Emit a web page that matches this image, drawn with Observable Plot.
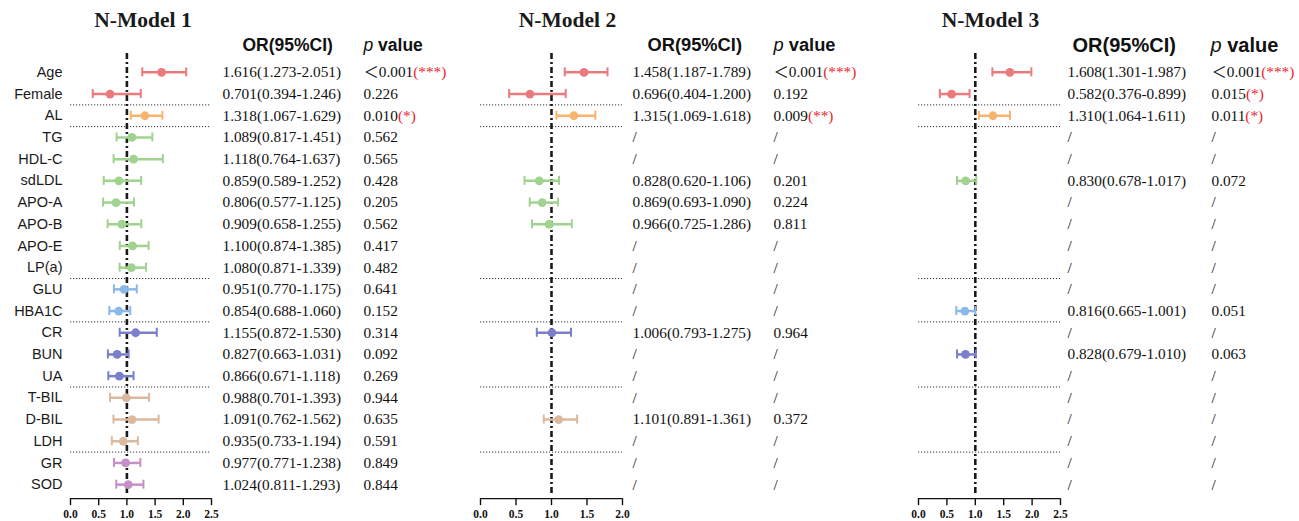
<!DOCTYPE html>
<html><head><meta charset="utf-8">
<script src="https://cdn.jsdelivr.net/npm/d3@7"></script>
<script src="https://cdn.jsdelivr.net/npm/@observablehq/plot@0.6"></script>
<style>
html,body{margin:0;padding:0;background:#fff;color:#111;}
#chart{position:relative;width:1299px;height:521px;overflow:hidden;}
#chart svg{position:absolute;top:0;background:transparent;}
</style></head><body><div id="chart"></div>
<script>
// ---------- data ----------
const variables = ["Age","Female","AL","TG","HDL-C","sdLDL","APO-A","APO-B","APO-E","LP(a)","GLU","HBA1C","CR","BUN","UA","T-BIL","D-BIL","LDH","GR","SOD"];
const groups = ["demo","demo","al","lipid","lipid","lipid","lipid","lipid","lipid","lipid","glucose","glucose","renal","renal","renal","liver","liver","liver","oxid","oxid"];
const groupNames = ["demo","al","lipid","glucose","renal","liver","oxid"];
const groupColors = ["#ec7a7c","#f8b46c","#9fd38f","#8ab9e9","#7a7fcb","#dcb99e","#c590c6"];
const separatorsBefore = ["AL","TG","GLU","CR","T-BIL","GR"];

const titles = ["N-Model 1","N-Model 2","N-Model 3"];
const ticks1 = [0,0.5,1,1.5,2,2.5];
const ticks2 = [0,0.5,1,1.5,2];
const ticks3 = [0,0.5,1,1.5,2,2.5];

const m1OR = [1.616,0.701,1.318,1.089,1.118,0.859,0.806,0.909,1.100,1.080,0.951,0.854,1.155,0.827,0.866,0.988,1.091,0.935,0.977,1.024];
const m1Lo = [1.273,0.394,1.067,0.817,0.764,0.589,0.577,0.658,0.874,0.871,0.770,0.688,0.872,0.663,0.671,0.701,0.762,0.733,0.771,0.811];
const m1Hi = [2.051,1.246,1.629,1.451,1.637,1.252,1.125,1.255,1.385,1.339,1.175,1.060,1.530,1.031,1.118,1.393,1.562,1.194,1.238,1.293];
const m1P  = ["＜0.001","0.226","0.010","0.562","0.565","0.428","0.205","0.562","0.417","0.482","0.641","0.152","0.314","0.092","0.269","0.944","0.635","0.591","0.849","0.844"];
const m1Sig = ["***","","*","","","","","","","","","","","","","","","","",""];

const m2OR = [1.458,0.696,1.315,null,null,0.828,0.869,0.966,null,null,null,null,1.006,null,null,null,1.101,null,null,null];
const m2Lo = [1.187,0.404,1.069,null,null,0.620,0.693,0.725,null,null,null,null,0.793,null,null,null,0.891,null,null,null];
const m2Hi = [1.789,1.200,1.618,null,null,1.106,1.090,1.286,null,null,null,null,1.275,null,null,null,1.361,null,null,null];
const m2P  = ["＜0.001","0.192","0.009",null,null,"0.201","0.224","0.811",null,null,null,null,"0.964",null,null,null,"0.372",null,null,null];
const m2Sig = ["***","","**","","","","","","","","","","","","","","","","",""];

const m3OR = [1.608,0.582,1.310,null,null,0.830,null,null,null,null,null,0.816,null,0.828,null,null,null,null,null,null];
const m3Lo = [1.301,0.376,1.064,null,null,0.678,null,null,null,null,null,0.665,null,0.679,null,null,null,null,null,null];
const m3Hi = [1.987,0.899,1.611,null,null,1.017,null,null,null,null,null,1.001,null,1.010,null,null,null,null,null,null];
const m3P  = ["＜0.001","0.015","0.011",null,null,"0.072",null,null,null,null,null,"0.051",null,"0.063",null,null,null,null,null,null];
const m3Sig = ["***","*","*","","","","","","","","","","","","","","","","",""];

// ---------- layout ----------
const W = 433, H = 521;
const layout = [
  {left: 0,   marginLeft: 70, marginRight: 222, titleDx: 2,  orDx: 11, pDx: 152, hOrDx: 31, hPDx: 152, hSize: 17.5},
  {left: 433, marginLeft: 47, marginRight: 244, titleDx: 16, orDx: 10, pDx: 151, hOrDx: 25, hPDx: 151, hSize: 18.3},
  {left: 866, marginLeft: 52, marginRight: 239, titleDx: 1,  orDx: 7,  pDx: 151, hOrDx: 12, hPDx: 150, hSize: 20}
];

const serif = "'Liberation Serif','Times New Roman','Noto Sans CJK SC',serif";
const sans = "'Liberation Sans',Arial,sans-serif";
const valSize = 15.3;
const red = "#e8232b";
const ctx = document.createElement("canvas").getContext("2d");
function measure(str, font){ ctx.font = font; return ctx.measureText(str).width; }
const f3 = v => v.toFixed(3);
const lastRow = variables[variables.length - 1];

function panel(idx, OR, LO, HI, P, SIG, ticks, showLabels){
  const cfg = layout[idx];
  const rows = variables.map((name,i)=>({name, group: groups[i], or: OR[i], lo: LO[i], hi: HI[i], p: P[i], sig: SIG[i]}));
  const est = rows.filter(d => d.or != null);
  const starred = rows.filter(d => d.sig);
  const pFont = `${valSize}px ${serif}`;
  const pItalicW = measure("p ", `italic ${cfg.hSize}px ${sans}`);
  const marks = [
    Plot.ruleY(separatorsBefore, {y: d => d, dy: -10.85, stroke: "#333", strokeWidth: 1, strokeDasharray: "1.2,1.8"}),
    Plot.ruleX([1], {insetTop: -8, insetBottom: 4, stroke: "#1a1a1a", strokeWidth: 2.6, strokeDasharray: "6,3,2,3"}),
    Plot.ruleY(est, {y: "name", x1: "lo", x2: "hi", stroke: "group", strokeWidth: 2.5}),
    Plot.ruleX(est, {x: "lo", y1: "name", y2: "name", insetTop: -4.5, insetBottom: -4.5, stroke: "group", strokeWidth: 2}),
    Plot.ruleX(est, {x: "hi", y1: "name", y2: "name", insetTop: -4.5, insetBottom: -4.5, stroke: "group", strokeWidth: 2}),
    Plot.dot(est, {x: "or", y: "name", fill: "group", r: 4.4}),
    // x axis: line, ticks, labels
    Plot.ruleY([lastRow], {y: d => d, dy: 14, stroke: "#111", strokeWidth: 1.4}),
    Plot.ruleX(ticks, {x: d => d, y1: () => lastRow, y2: () => lastRow, insetTop: 14, insetBottom: -21, stroke: "#111", strokeWidth: 1.4}),
    Plot.text(ticks, {x: d => d, y: () => lastRow, dy: 30, text: d => d.toFixed(1), lineAnchor: "middle",
      fontFamily: serif, fontWeight: "bold", fontSize: 11.5, fill: "#111"}),
    Plot.text(rows, {y: "name", text: d => d.or == null ? "/" : `${f3(d.or)}(${f3(d.lo)}-${f3(d.hi)})`,
      frameAnchor: "right", dx: cfg.orDx, textAnchor: "start", lineAnchor: "middle", fontFamily: serif, fontSize: valSize, fill: "#111"}),
    Plot.text(rows, {y: "name", text: d => d.p == null ? "/" : d.p,
      frameAnchor: "right", dx: cfg.pDx, textAnchor: "start", lineAnchor: "middle", fontFamily: serif, fontSize: valSize, fill: "#111"}),
    ...starred.map(d => Plot.text([d], {y: "name", text: r => `(${r.sig})`, frameAnchor: "right",
      dx: cfg.pDx + measure(d.p, pFont), textAnchor: "start", lineAnchor: "middle", fontFamily: serif, fontSize: valSize, fill: red})),
    Plot.text([titles[idx]], {frameAnchor: "top", lineAnchor: "middle", dy: -41, dx: cfg.titleDx, fontFamily: serif, fontWeight: "bold", fontSize: 21.5, fill: "#1a1a1a"}),
    Plot.text(["OR(95%CI)"], {frameAnchor: "top-right", lineAnchor: "middle", dx: cfg.hOrDx, dy: -16, textAnchor: "start", fontFamily: sans, fontWeight: "bold", fontSize: cfg.hSize, fill: "#111"}),
    Plot.text(["p"], {frameAnchor: "top-right", lineAnchor: "middle", dx: cfg.hPDx, dy: -16, textAnchor: "start", fontFamily: sans, fontStyle: "italic", fontSize: cfg.hSize, fill: "#111"}),
    Plot.text(["value"], {frameAnchor: "top-right", lineAnchor: "middle", dx: cfg.hPDx + pItalicW, dy: -16, textAnchor: "start", fontFamily: sans, fontWeight: "bold", fontSize: cfg.hSize, fill: "#111"})
  ];
  if (showLabels) marks.push(Plot.axisY({label: null, tickSize: 0, tickPadding: 8, fontFamily: sans, fontSize: 14.5, fill: "#1a1a1a"}));
  const svg = Plot.plot({
    width: W, height: H,
    marginLeft: cfg.marginLeft, marginRight: cfg.marginRight, marginTop: 61, marginBottom: 23,
    x: {domain: [ticks[0], ticks[ticks.length-1]], axis: null},
    y: {type: "point", domain: variables, padding: 0.5, round: false, insetBottom: 3, axis: null},
    color: {domain: groupNames, range: groupColors},
    style: {background: "transparent", overflow: "visible"},
    marks
  });
  svg.style.left = cfg.left + "px";
  document.getElementById("chart").appendChild(svg);
}

panel(0, m1OR, m1Lo, m1Hi, m1P, m1Sig, ticks1, true);
panel(1, m2OR, m2Lo, m2Hi, m2P, m2Sig, ticks2, false);
panel(2, m3OR, m3Lo, m3Hi, m3P, m3Sig, ticks3, false);
</script>
</body></html>
